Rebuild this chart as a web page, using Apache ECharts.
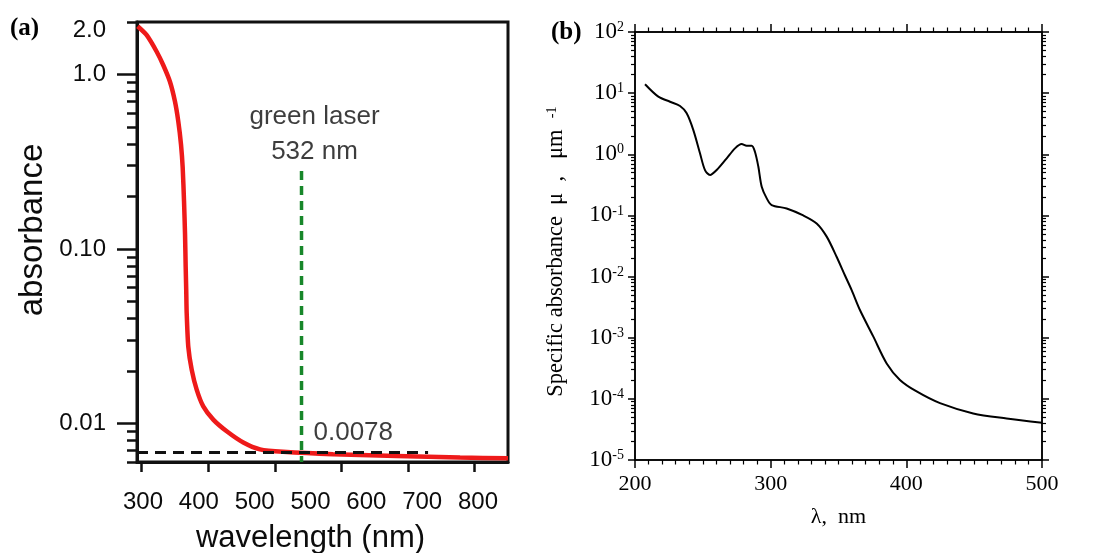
<!DOCTYPE html>
<html>
<head>
<meta charset="utf-8">
<script src="https://cdn.jsdelivr.net/npm/echarts@6/dist/echarts.min.js"></script>
<style>html,body{margin:0;padding:0;background:#fff}#c{width:1110px;height:553px}</style>
</head>
<body>
<div id="c"></div>
<script>
// ---------- Panel (a) data ----------
const redWavelength = [294, 307.6, 322.6, 332.5, 342.5, 350, 355, 359.1, 361.6, 363.6, 365.1, 366.1, 366.9, 367.6, 370, 375.1, 382.6, 392.5, 407.5, 427.7, 452.6, 477.7, 512.2, 587.2, 778, 850];
const redAbsorbance = [1.89, 1.68, 1.35, 1.13, 0.909, 0.70, 0.538, 0.396, 0.292, 0.188, 0.122, 0.0785, 0.058, 0.0428, 0.0275, 0.0203, 0.0156, 0.0125, 0.0105, 0.0090, 0.00776, 0.00709, 0.00686, 0.00665, 0.00637, 0.0063];
const laserWavelength = [540, 540];
const laserLevel = [0.28, 0.006];
const refWavelength = [293, 730];
const refLevel = [0.0068, 0.0068];
const xTickValsA = [300, 400, 500, 600, 700, 800];
const xTickLabelsA = ['300', '400', '500', '500', '600', '700', '800'];
const yTickValsA = [2, 1, 0.1, 0.01];
const yTickLabelsA = ['2.0', '1.0', '0.10', '0.01'];
const yMajorA = [1, 0.1, 0.01];
const yMinorA = [2, 0.9, 0.8, 0.7, 0.6, 0.5, 0.4, 0.3, 0.2, 0.09, 0.08, 0.07, 0.06, 0.05, 0.04, 0.03, 0.02, 0.009, 0.008, 0.007, 0.006];

// ---------- Panel (b) data ----------
const muWavelength = [207.4, 217.2, 225.8, 233.2, 238.1, 243, 247.9, 251.6, 255.3, 260.2, 267.6, 273.7, 278.6, 282.3, 286, 288.4, 290.9, 293.4, 297.1, 300.7, 311.8, 324, 333.9, 341.3, 348.6, 354.7, 359.7, 365.8, 375.6, 385.5, 395.3, 407.6, 424.8, 449.3, 473.9, 500];
const muValue = [13.96, 8.75, 7.24, 6.17, 4.68, 2.49, 1.04, 0.55, 0.458, 0.553, 0.86, 1.25, 1.47, 1.38, 1.38, 1.10, 0.63, 0.295, 0.19, 0.148, 0.13, 0.10, 0.074, 0.045, 0.0211, 0.0105, 0.006, 0.00284, 0.00105, 0.00038, 0.000204, 0.000132, 0.000085, 0.0000578, 0.0000478, 0.0000407];
const yDecadesB = [1e-5, 1e-4, 1e-3, 1e-2, 1e-1, 1, 10, 100];
const yMinorB = [];
for (let d = -5; d < 2; d++) { for (let m = 2; m <= 9; m++) { yMinorB.push(m * Math.pow(10, d)); } }

const zip = (a, b) => a.map((v, i) => [v, b[i]]);
const SANS = 'Liberation Sans, Arial, sans-serif';
const SERIF = 'Liberation Serif, Times New Roman, serif';
const INK = '#111';
const TXT = '#0c0c0c';

const chart = echarts.init(document.getElementById('c'));
chart.setOption({
  animation: false,
  backgroundColor: '#fff',
  grid: [
    { left: 137, top: 22, width: 371, height: 440, show: true, borderColor: INK, borderWidth: 3, outerBoundsMode: 'none' },
    { left: 635, top: 32, width: 407, height: 428, show: true, borderColor: '#000', borderWidth: 1.5, outerBoundsMode: 'none' },
    { left: 143, top: 22, width: 335, height: 440, show: false, outerBoundsMode: 'none' }
  ],
  xAxis: [
    { gridIndex: 0, type: 'value', min: 293, max: 850,
      axisLine: { lineStyle: { color: INK, width: 3 } },
      axisTick: { customValues: xTickValsA, length: 10, lineStyle: { color: INK, width: 2.5 } },
      axisLabel: { show: false }, splitLine: { show: false } },
    { gridIndex: 2, type: 'category', boundaryGap: false, data: xTickLabelsA,
      axisLine: { show: false }, axisTick: { show: false },
      axisLabel: { interval: 0, margin: 28, fontFamily: SANS, fontSize: 24, color: TXT },
      name: 'wavelength (nm)', nameLocation: 'middle', nameGap: 61,
      nameTextStyle: { fontFamily: SANS, fontSize: 31, color: TXT } },
    { gridIndex: 1, type: 'value', min: 200, max: 500, interval: 100, position: 'bottom',
      axisLine: { lineStyle: { color: '#000', width: 1.5 } },
      axisTick: { length: 8, lineStyle: { color: '#000', width: 1.5 } },
      minorTick: { show: true, splitNumber: 10, length: 4.5, lineStyle: { color: '#000', width: 1.2 } },
      axisLabel: { margin: 13, fontFamily: SERIF, fontSize: 22, color: '#000' },
      splitLine: { show: false },
      name: 'λ,  nm', nameLocation: 'middle', nameGap: 46,
      nameTextStyle: { fontFamily: SERIF, fontSize: 22, color: '#000' } },
    { gridIndex: 1, type: 'value', min: 200, max: 500, interval: 100, position: 'top',
      axisLine: { lineStyle: { color: '#000', width: 1.5 } },
      axisTick: { length: 8, lineStyle: { color: '#000', width: 1.5 } },
      minorTick: { show: true, splitNumber: 10, length: 4.5, lineStyle: { color: '#000', width: 1.2 } },
      axisLabel: { show: false }, splitLine: { show: false } }
  ],
  yAxis: [
    { gridIndex: 0, type: 'log', logBase: 10, min: 0.006, max: 2, position: 'left',
      axisLine: { show: true, lineStyle: { color: INK, width: 3 } },
      axisTick: { customValues: yMajorA, length: 20, lineStyle: { color: INK, width: 2.5 } },
      axisLabel: { customValues: yTickValsA, margin: 31, fontFamily: SANS, fontSize: 24, color: TXT,
        formatter: v => { const i = yTickValsA.findIndex(t => Math.abs(Math.log10(t) - Math.log10(v)) < 1e-6); return i < 0 ? '' : (i === 0 ? '{t|' + yTickLabelsA[i] + '}' : yTickLabelsA[i]); },
        rich: { t: { fontFamily: SANS, fontSize: 24, color: TXT, padding: [16, 0, 0, 0] } } },
      splitLine: { show: false }, minorSplitLine: { show: false } },
    { gridIndex: 0, type: 'log', logBase: 10, min: 0.006, max: 2, position: 'left',
      axisLine: { show: false },
      axisTick: { customValues: yMinorA, length: 10, lineStyle: { color: INK, width: 2.5 } },
      axisLabel: { show: false }, splitLine: { show: false } },
    { gridIndex: 2, type: 'value', show: false },
    { gridIndex: 1, type: 'log', logBase: 10, min: 1e-5, max: 100, position: 'left',
      axisLine: { show: true, lineStyle: { color: '#000', width: 1.5 } },
      axisTick: { customValues: yDecadesB, length: 7, lineStyle: { color: '#000', width: 1.5 } },
      axisLabel: { customValues: yDecadesB, margin: 11, color: '#000',
        formatter: v => '{b|10}{s|' + Math.round(Math.log10(v)) + '}',
        rich: { b: { fontFamily: SERIF, fontSize: 23, color: '#000' }, s: { fontFamily: SERIF, fontSize: 14, color: '#000', verticalAlign: 'top', padding: [0, 0, 6, 0] } } },
      splitLine: { show: false },
      name: 'Specific absorbance  μ  ,   μm  {s|-1}  ', nameLocation: 'middle', nameGap: 67,
      nameTextStyle: { fontFamily: SERIF, fontSize: 22.5, color: '#000',
        rich: { s: { fontFamily: SERIF, fontSize: 14, color: '#000', verticalAlign: 'top', padding: [0, 0, 6, 0] } } } },
    { gridIndex: 1, type: 'log', logBase: 10, min: 1e-5, max: 100, position: 'left',
      axisLine: { show: false },
      axisTick: { customValues: yMinorB, length: 4, lineStyle: { color: '#000', width: 1.2 } },
      axisLabel: { show: false }, splitLine: { show: false } },
    { gridIndex: 1, type: 'log', logBase: 10, min: 1e-5, max: 100, position: 'right',
      axisLine: { show: true, lineStyle: { color: '#000', width: 1.5 } },
      axisTick: { customValues: yDecadesB, length: 7, lineStyle: { color: '#000', width: 1.5 } },
      axisLabel: { show: false }, splitLine: { show: false } },
    { gridIndex: 1, type: 'log', logBase: 10, min: 1e-5, max: 100, position: 'right',
      axisLine: { show: false },
      axisTick: { customValues: yMinorB, length: 4, lineStyle: { color: '#000', width: 1.2 } },
      axisLabel: { show: false }, splitLine: { show: false } }
  ],
  series: [
    { name: 'absorbance', type: 'line', xAxisIndex: 0, yAxisIndex: 0, data: zip(redWavelength, redAbsorbance),
      smooth: 0.2, symbol: 'none', lineStyle: { color: '#ee1a1a', width: 4.5 }, z: 3 },
    { name: 'ref', type: 'line', xAxisIndex: 0, yAxisIndex: 0, data: zip(refWavelength, refLevel),
      symbol: 'none', lineStyle: { color: '#111', width: 3, type: [11, 7] }, z: 4 },
    { name: 'laser', type: 'line', xAxisIndex: 0, yAxisIndex: 0, data: zip(laserWavelength, laserLevel),
      symbol: 'none', lineStyle: { color: '#17872a', width: 3.5, type: [9, 6] }, z: 5 },
    { name: 'notes', type: 'scatter', xAxisIndex: 0, yAxisIndex: 0, symbolSize: 0, silent: true, z: 6,
      data: [
        { value: [laserWavelength[0], laserLevel[0]], label: { show: true, position: 'top', distance: 2, offset: [13, 0], formatter: 'green laser\n532 nm', fontFamily: SANS, fontSize: 26, lineHeight: 35, color: TXT } },
        { value: [laserWavelength[0], refLevel[0]], label: { show: true, position: 'right', distance: 0, offset: [12, -20], formatter: '0.0078', fontFamily: SANS, fontSize: 26, color: TXT } }
      ] },
    { name: 'mu', type: 'line', xAxisIndex: 2, yAxisIndex: 3, data: zip(muWavelength, muValue),
      smooth: 0.3, symbol: 'none', lineStyle: { color: '#000', width: 2 } }
  ],
  graphic: [
    { type: 'text', x: 33, y: 230, rotation: Math.PI / 2, style: { text: 'absorbance', fontFamily: SANS, fontSize: 33, fill: TXT, align: 'center', verticalAlign: 'middle' } },
    { type: 'text', x: 10, y: 16, style: { text: '(a)', fontFamily: SERIF, fontWeight: 'bold', fontSize: 25, fill: '#000' } },
    { type: 'text', x: 551, y: 20, style: { text: '(b)', fontFamily: SERIF, fontWeight: 'bold', fontSize: 25, fill: '#000' } }
  ]
});
</script>
</body>
</html>
